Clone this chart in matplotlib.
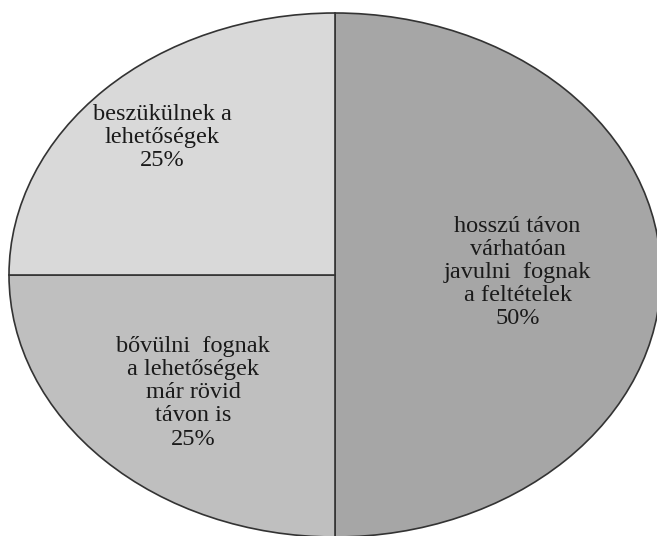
import matplotlib.pyplot as plt

labels = ['hosszú távon\nvárhatóan\njavulni  fognak\na feltételek',
          'bővülni  fognak\na lehetőségek\nmár rövid\ntávon is',
          'beszükülnek a\nlehetőségek']
shares = [50, 25, 25]
colors = ['#a6a6a6', '#bfbfbf', '#d9d9d9']

# label centres in axes data units (ellipse spans -1..1 both ways)
label_pos = [(0.56, 0.01), (-0.435, -0.45), (-0.53, 0.525)]

fig = plt.figure(figsize=(6.57, 5.36), dpi=100)
ax = fig.add_axes([9/657, -1/536, 652/657, 524/536])

ax.pie(shares, colors=colors, startangle=90, counterclock=False,
       wedgeprops=dict(edgecolor='#333333', linewidth=1.2))
ax.set_aspect('auto')
ax.set_xlim(-1, 1)
ax.set_ylim(-1, 1)
ax.axis('off')

for lab, val, (x, y) in zip(labels, shares, label_pos):
    ax.text(x, y, f'{lab}\n{val}%', ha='center', va='center',
            fontsize=17.5, family='Liberation Serif', color='#1a1a1a',
            linespacing=1.13)

fig.savefig('out.png', dpi=100)
